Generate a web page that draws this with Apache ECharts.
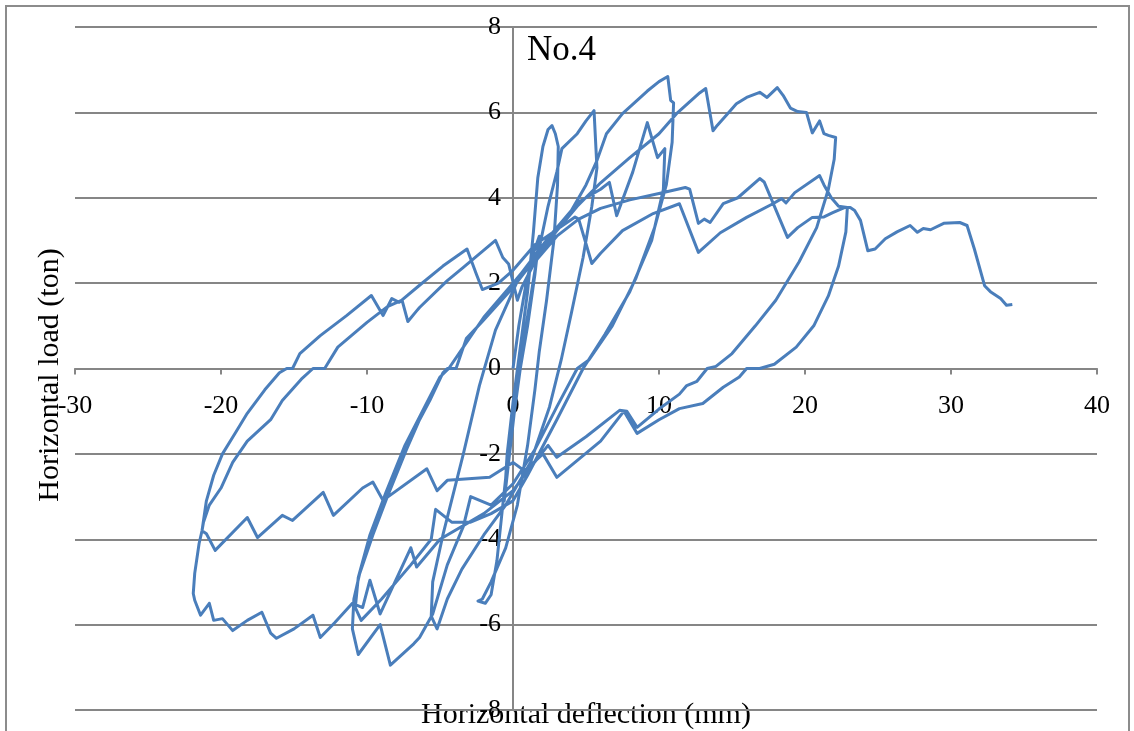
<!DOCTYPE html>
<html>
<head>
<meta charset="utf-8">
<script src="https://cdn.jsdelivr.net/npm/echarts@6/dist/echarts.min.js"></script>
<style>
html,body{margin:0;padding:0;background:#fff;overflow:hidden;width:1134px;height:731px;}
#frame{position:absolute;left:5px;top:5px;width:1125px;height:740px;border:2px solid #8c8c8c;box-sizing:border-box;}
#chart{position:absolute;left:0;top:0;width:1134px;height:731px;}
</style>
</head>
<body>
<div id="frame"></div>
<div id="chart"></div>
<script>
// Horizontal deflection (mm) and horizontal load (ton), in recorded order
const deflection = [
  0,0.4,0.9,1.4,1.8,1.5,1.0,0.5,0.1,-0.3,-0.6,-0.4,0,0.5,
  1.0,1.4,1.7,2.05,2.4,2.67,2.9,3.1,
  3.05,2.8,2.3,1.8,1.5,1.0,0.3,-0.5,-1.5,-2.1,-2.4,-1.9,-1.5,-1.1,-0.7,-0.2,0.3,
  0.8,1.6,2.4,3.0,3.35,4.4,5.0,5.55,5.75,5.4,4.8,4.0,3.3,2.5,1.2,-0.5,-2.0,-3.5,-4.5,-5.2,-5.6,-5.5,-4.8,-3.4,-2.3,-1.2,
  0.5,2.5,4.0,5.0,5.75,6.4,7.5,9.2,10.0,10.6,10.8,11.0,10.9,10.5,9.7,8.4,6.8,5.2,4.4,3.0,1.5,0,-1.5,-2.9,-3.4,-4.5,-5.5,-6.4,-6.8,-8.4,-9.1,-10.6,-11.0,
  -10.9,-10.5,-9.6,-8.6,-7.3,-6.4,-5.7,-4.8,-4.5,-3.9,-3.2,-2.1,0,2.5,4.5,6.0,6.6,7.1,8.2,9.2,9.9,10.4,
  10.3,9.5,8.0,6.3,4.8,3.0,1.0,0,-1.5,-2.9,-4.2,-5.3,-5.6,-7.0,-9.0,-10.4,-10.8,
  -10.6,-9.8,-8.7,-7.4,-6.2,-5.0,-4.4,-3.6,-2.0,0,2.2,4.4,
  6.0,8.0,10.0,11.2,12.8,13.2,13.7,14.0,14.7,15.3,16.0,16.9,17.4,18.1,18.5,19.0,19.5,20.1,20.5,21.0,21.3,21.6,22.1,
  22.0,21.6,20.8,19.6,18.0,16.6,15.0,13.9,13.3,12.6,11.9,11.4,10.0,8.5,7.8,7.3,5.0,3.0,2.4,1.0,0,-2.0,-5.0,-6.6,-7.0,-9.1,-9.8,-10.3,-11.0,
  -12.2,-13.2,-13.7,-15.0,-16.2,-16.6,-17.2,-18.2,-19.2,-19.9,-20.5,-20.8,-21.4,-21.8,-21.9,
  -21.8,-21.5,-21.3,-21.0,-20.5,-19.9,-19.0,-18.2,-17.0,-16.0,-15.5,-15.1,-14.6,-13.2,-11.4,-9.7,-8.9,-8.3,-7.8,-6.4,-4.8,-3.15,-2.5,-2.1,-1.0,0,1.5,3.2,4.25,4.5,5.4,6.0,7.5,9.6,11.4,12.7,14.2,16.0,17.8,18.4,18.7,19.3,21.0,21.3,21.8,22.3,22.9,
  22.8,22.3,21.6,20.6,19.4,17.9,16.9,16.0,15.5,14.4,13.0,11.4,10.0,8.5,7.6,6.0,3.0,2.05,0.8,0,-1.6,-4.5,-5.2,-5.9,-8.9,-9.6,-10.3,-12.3,-13.0,-15.1,-15.8,-17.5,-18.2,-20.4,-21.0,-21.3,
  -21.2,-20.8,-20.0,-19.2,-18.2,-16.6,-15.8,-14.5,-13.7,-12.9,-12.0,-10.0,-8.6,-7.6,-7.2,-6.6,-6.4,-4.5,-3.4,-1.2,-0.7,-0.3,0.3,0.6,1.5,3.0,4.5,6.0,8.0,10.0,11.8,12.1,12.7,13.1,13.5,14.4,15.4,16.9,17.2,18.8,19.5,20.5,21.3,21.9,22.7,23.1,23.4,23.8,24.3,24.8,25.5,26.3,27.2,27.7,28.1,28.6,29.5,30.6,31.1,31.6,32.3,32.7,33.4,33.8,34.2
];
const load = [
  0,1.0,2.0,2.7,3.1,2.2,1.0,0,-1.0,-2.2,-3.1,-2.0,-0.8,0.5,
  1.8,3.2,4.47,5.2,5.6,5.69,5.5,5.2,
  4.3,3.0,1.6,0.4,-0.5,-1.8,-3.2,-4.2,-5.0,-5.4,-5.45,-5.5,-5.3,-4.5,-3.2,-1.6,-0.3,
  0.8,2.5,3.8,4.6,5.15,5.5,5.8,6.04,4.7,3.8,2.6,1.3,0.2,-0.9,-2.2,-3.2,-3.9,-4.7,-5.4,-6.1,-5.8,-5.0,-3.9,-2.0,-0.4,0.9,
  2.2,3.1,3.7,4.3,4.87,5.5,5.97,6.5,6.72,6.84,6.28,6.22,5.3,4.3,3.3,2.1,1.0,0.2,0,-0.9,-1.9,-2.7,-3.2,-3.0,-3.7,-4.6,-5.75,-6.3,-6.45,-6.95,-6.0,-6.7,-6.1,
  -5.4,-4.8,-3.9,-3.0,-1.9,-1.2,-0.75,-0.1,0,0,0.7,1.1,1.9,3.0,3.9,4.2,4.36,3.58,4.6,5.76,4.94,5.15,
  4.2,3.0,1.8,0.8,0,-1.2,-2.5,-3.1,-3.4,-3.6,-3.6,-3.3,-4.0,-4.6,-5.4,-5.9,-5.6,
  -4.9,-3.9,-2.9,-1.8,-1.0,-0.2,0,0.4,1.2,2.0,2.9,3.8,
  4.35,4.94,5.5,5.97,6.46,6.56,5.57,5.7,5.97,6.2,6.35,6.47,6.35,6.58,6.4,6.1,6.02,6.0,5.52,5.8,5.5,5.46,5.41,
  4.9,4.2,3.3,2.5,1.6,1.0,0.35,0.05,0,-0.3,-0.4,-0.6,-0.95,-1.38,-1.0,-0.98,-1.6,-2.08,-1.8,-2.4,-2.86,-3.4,-4.0,-4.65,-4.2,-5.75,-4.96,-5.6,-5.5,
  -5.95,-6.3,-5.78,-6.1,-6.32,-6.2,-5.71,-5.9,-6.14,-5.86,-5.9,-5.5,-5.78,-5.43,-5.27,
  -4.8,-4.1,-3.8,-3.1,-2.5,-2.0,-1.5,-1.05,-0.5,-0.1,0,0,0.35,0.77,1.24,1.71,1.24,1.64,1.55,1.95,2.4,2.8,2.2,1.85,2.0,2.3,2.9,3.3,3.55,3.5,2.46,2.7,3.23,3.63,3.86,2.72,3.18,3.54,3.86,3.98,3.88,4.12,4.52,4.3,4.0,3.8,3.77,
  3.2,2.4,1.7,1.0,0.5,0.1,0,0,-0.2,-0.44,-0.82,-0.94,-1.2,-1.52,-1.0,-1.7,-2.55,-2.0,-2.4,-2.2,-2.55,-2.62,-2.86,-2.35,-3.09,-2.66,-2.8,-3.44,-2.9,-3.56,-3.44,-3.96,-3.49,-4.26,-3.87,-3.8,
  -3.6,-3.2,-2.8,-2.2,-1.7,-1.2,-0.75,-0.25,0,0,0.5,1.08,1.45,1.6,1.1,1.35,1.43,2.06,2.37,3.0,2.6,2.45,1.6,1.9,2.5,3.1,3.5,3.75,3.95,4.1,4.24,4.2,3.4,3.5,3.42,3.86,4.0,4.45,4.37,3.07,3.3,3.54,3.55,3.65,3.77,3.77,3.7,3.47,2.76,2.8,3.04,3.2,3.35,3.19,3.28,3.25,3.4,3.42,3.35,2.8,1.94,1.8,1.64,1.48,1.5
];
const xTicks = [-30,-20,-10,0,10,20,30,40];
const yTicks = [-8,-6,-4,-2,0,2,4,6,8];
const titleText = 'No.4';
const xTitle = 'Horizontal deflection (mm)';
const yTitle = 'Horizontal load (ton)';

const points = deflection.map((d, i) => [d, load[i]]);
const chart = echarts.init(document.getElementById('chart'), null, {renderer: 'canvas'});
const gray = '#868686';
const font = '"Liberation Serif", "DejaVu Serif", serif';
const W = 1134, H = 731;
const gridLeft = 75, gridRight = 37, gridTop = 27, gridBottom = 21;
const xMin = xTicks[0], xMax = xTicks[xTicks.length-1];
const yMin = yTicks[0], yMax = yTicks[yTicks.length-1];
const pxPerX = (W - gridLeft - gridRight) / (xMax - xMin);
const pxPerY = (H - gridTop - gridBottom) / (yMax - yMin);
chart.setOption({
  animation: false,
  backgroundColor: 'transparent',
  grid: {left: gridLeft, right: gridRight, top: gridTop, bottom: gridBottom, containLabel: false, outerBoundsMode: 'none'},
  xAxis: {
    type: 'value', min: xMin, max: xMax, interval: 10,
    position: 'bottom',
    offset: -(0 - yMin) * pxPerY,
    axisLine: {onZero: false, lineStyle: {color: gray, width: 2}},
    axisTick: {show: true, length: 6, lineStyle: {color: gray, width: 2}},
    axisLabel: {color: '#000', fontFamily: font, fontSize: 26, margin: 25},
    splitLine: {show: false}
  },
  yAxis: {
    type: 'value', min: yMin, max: yMax, interval: 2,
    position: 'left',
    offset: -(0 - xMin) * pxPerX,
    axisLine: {onZero: false, lineStyle: {color: gray, width: 2}},
    axisTick: {show: true, length: 5, lineStyle: {color: gray, width: 2}},
    axisLabel: {color: '#000', fontFamily: font, fontSize: 26, margin: 12},
    splitLine: {show: true, lineStyle: {color: gray, width: 2}}
  },
  graphic: [
    {type: 'text', left: 527, top: 33, style: {text: titleText, font: '35px ' + font, fill: '#000'}},
    {type: 'text', x: 586, y: 715, style: {text: xTitle, font: '30px ' + font, fill: '#000', align: 'center', verticalAlign: 'middle'}},
    {type: 'text', x: 50, y: 375, rotation: Math.PI/2, style: {text: yTitle, font: '30px ' + font, fill: '#000', align: 'center', verticalAlign: 'middle'}}
  ],
  series: [{
    type: 'line', data: points, showSymbol: false, smooth: false,
    lineStyle: {color: '#4a7ebb', width: 3, join: 'round'},
    z: 3
  }]
});
</script>
</body>
</html>
